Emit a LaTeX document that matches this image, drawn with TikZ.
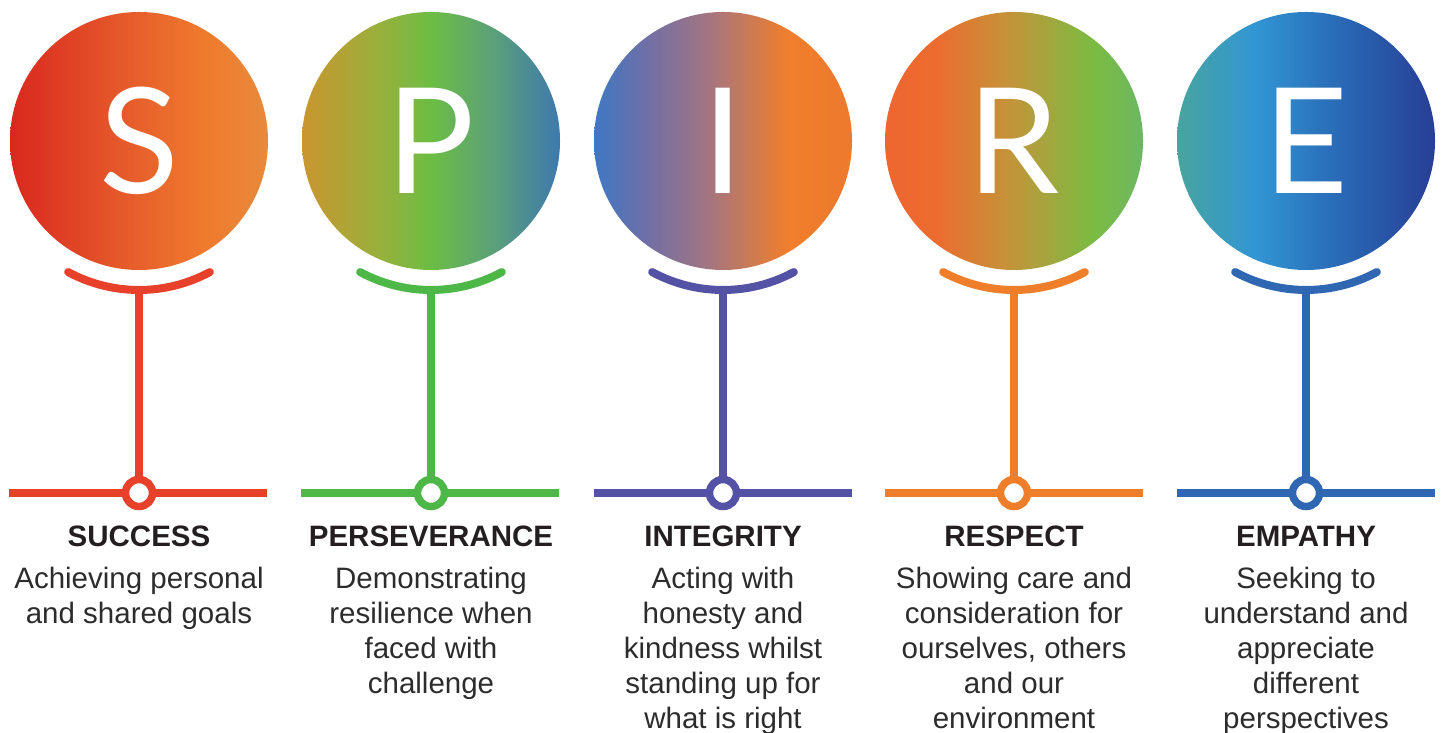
\documentclass[tikz,border=0pt]{standalone}
\usepackage{xcolor}
\usepackage{fontspec}
\setmainfont{Liberation Sans}
\newfontfamily\letterfont{Lato}
\usepackage{tikz}
\usetikzlibrary{positioning}

\definecolor{colS}{HTML}{E8412B}
\definecolor{colP}{HTML}{4DB748}
\definecolor{colI}{HTML}{5452A4}
\definecolor{colR}{HTML}{EF7E2A}
\definecolor{colE}{HTML}{2F67B3}
\definecolor{ink}{HTML}{231F20}
\definecolor{body}{HTML}{2C2C2C}

% disc colours, left to right
\definecolor{sA}{HTML}{D9281E}\definecolor{sB}{HTML}{E4562A}\definecolor{sC}{HTML}{EF7A2D}\definecolor{sD}{HTML}{E88A3C}
\definecolor{pA}{HTML}{C9962F}\definecolor{pB}{HTML}{98B03C}\definecolor{pC}{HTML}{6CBD44}\definecolor{pD}{HTML}{5A9F7C}\definecolor{pE}{HTML}{3E79AE}
\definecolor{iA}{HTML}{3F78C4}\definecolor{iB}{HTML}{6F6FA6}\definecolor{iC}{HTML}{A5757F}\definecolor{iD}{HTML}{F07E2C}\definecolor{iE}{HTML}{ED7A2D}
\definecolor{rA}{HTML}{EE6630}\definecolor{rB}{HTML}{EC6C2F}\definecolor{rC}{HTML}{C0963A}\definecolor{rD}{HTML}{7CBB42}\definecolor{rE}{HTML}{6CB763}
\definecolor{eA}{HTML}{48A49E}\definecolor{eB}{HTML}{3296D4}\definecolor{eC}{HTML}{2A6DB8}\definecolor{eD}{HTML}{283E96}

\pgfdeclarehorizontalshading{shadeS}{100bp}{color(0bp)=(sA); color(25bp)=(sA); color(45bp)=(sB); color(62.5bp)=(sC); color(75bp)=(sD); color(100bp)=(sD)}
\pgfdeclarehorizontalshading{shadeP}{100bp}{color(0bp)=(pA); color(25bp)=(pA); color(40bp)=(pB); color(50bp)=(pC); color(62.5bp)=(pD); color(75bp)=(pE); color(100bp)=(pE)}
\pgfdeclarehorizontalshading{shadeI}{100bp}{color(0bp)=(iA); color(25bp)=(iA); color(35bp)=(iB); color(47.5bp)=(iC); color(62.5bp)=(iD); color(75bp)=(iE); color(100bp)=(iE)}
\pgfdeclarehorizontalshading{shadeR}{100bp}{color(0bp)=(rA); color(25bp)=(rA); color(35bp)=(rB); color(50bp)=(rC); color(65bp)=(rD); color(75bp)=(rE); color(100bp)=(rE)}
\pgfdeclarehorizontalshading{shadeE}{100bp}{color(0bp)=(eA); color(25bp)=(eA); color(40bp)=(eB); color(55bp)=(eC); color(75bp)=(eD); color(100bp)=(eD)}

\tikzset{
    disc/.style={circle, minimum size=258pt, inner sep=0pt, text=white,
        font=\letterfont\fontsize{147}{150}\selectfont},
    smile/.style={line width=8pt, line cap=round},
    stem/.style={line width=8pt},
    bar/.style={line width=8.5pt},
    ring/.style={circle, line width=7.5pt, fill=white, minimum size=27pt, inner sep=0pt},
    title/.style={anchor=base, inner sep=0pt, text=ink, font=\bfseries\fontsize{29.5}{34}\selectfont},
    blurb/.style={anchor=north, inner sep=0pt, align=center, text=body, font=\fontsize{29.5}{35}\selectfont}
}

\begin{document}
\begin{tikzpicture}[x=1pt, y=1pt]
                    \useasboundingbox (0,0) rectangle (1445,733);
                    % Success
                    \node[disc, shading=shadeS] (sDisc) at (139,592) {S};
                    \draw[smile, colS] (139,592) ++(241.6:149) arc (241.6:298.4:149);
                    \coordinate (sSmile) at (139,443);
                    \node[ring, draw=colS] (sRing) at (139,240) {};
                    \coordinate (sLeft) at (9,240);
                    \coordinate (sRight) at (267,240);
                    \draw[stem, colS] (sSmile) -- (sRing.north);
                    \draw[bar, colS] (sLeft) -- (sRing.west);
                    \draw[bar, colS] (sRing.east) -- (sRight);
                    \node[title] (sTitle) at (139,186) {SUCCESS};
                    \node[blurb] (sText) at (139,166) {Achieving personal\\and shared goals};
                    % Perseverance
                    \node[disc, shading=shadeP] (pDisc) at (431,592) {P};
                    \draw[smile, colP] (431,592) ++(241.6:149) arc (241.6:298.4:149);
                    \coordinate (pSmile) at (431,443);
                    \node[ring, draw=colP] (pRing) at (431,240) {};
                    \coordinate (pLeft) at (301,240);
                    \coordinate (pRight) at (559,240);
                    \draw[stem, colP] (pSmile) -- (pRing.north);
                    \draw[bar, colP] (pLeft) -- (pRing.west);
                    \draw[bar, colP] (pRing.east) -- (pRight);
                    \node[title] (pTitle) at (431,186) {PERSEVERANCE};
                    \node[blurb] (pText) at (431,166) {Demonstrating\\resilience when\\faced with\\challenge};
                    % Integrity
                    \node[disc, shading=shadeI] (iDisc) at (723,592) {I};
                    \draw[smile, colI] (723,592) ++(241.6:149) arc (241.6:298.4:149);
                    \coordinate (iSmile) at (723,443);
                    \node[ring, draw=colI] (iRing) at (723,240) {};
                    \coordinate (iLeft) at (594,240);
                    \coordinate (iRight) at (852,240);
                    \draw[stem, colI] (iSmile) -- (iRing.north);
                    \draw[bar, colI] (iLeft) -- (iRing.west);
                    \draw[bar, colI] (iRing.east) -- (iRight);
                    \node[title] (iTitle) at (723,186) {INTEGRITY};
                    \node[blurb] (iText) at (723,166) {Acting with\\honesty and\\kindness whilst\\standing up for\\what is right};
                    % Respect
                    \node[disc, shading=shadeR] (rDisc) at (1014,592) {R};
                    \draw[smile, colR] (1014,592) ++(241.6:149) arc (241.6:298.4:149);
                    \coordinate (rSmile) at (1014,443);
                    \node[ring, draw=colR] (rRing) at (1014,240) {};
                    \coordinate (rLeft) at (885,240);
                    \coordinate (rRight) at (1143,240);
                    \draw[stem, colR] (rSmile) -- (rRing.north);
                    \draw[bar, colR] (rLeft) -- (rRing.west);
                    \draw[bar, colR] (rRing.east) -- (rRight);
                    \node[title] (rTitle) at (1014,186) {RESPECT};
                    \node[blurb] (rText) at (1014,166) {Showing care and\\consideration for\\ourselves, others\\and our\\environment};
                    % Empathy
                    \node[disc, shading=shadeE] (eDisc) at (1306,592) {E};
                    \draw[smile, colE] (1306,592) ++(241.6:149) arc (241.6:298.4:149);
                    \coordinate (eSmile) at (1306,443);
                    \node[ring, draw=colE] (eRing) at (1306,240) {};
                    \coordinate (eLeft) at (1177,240);
                    \coordinate (eRight) at (1435,240);
                    \draw[stem, colE] (eSmile) -- (eRing.north);
                    \draw[bar, colE] (eLeft) -- (eRing.west);
                    \draw[bar, colE] (eRing.east) -- (eRight);
                    \node[title] (eTitle) at (1306,186) {EMPATHY};
                    \node[blurb] (eText) at (1306,166) {Seeking to\\understand and\\appreciate\\different\\perspectives};
                \end{tikzpicture}
\end{document}
